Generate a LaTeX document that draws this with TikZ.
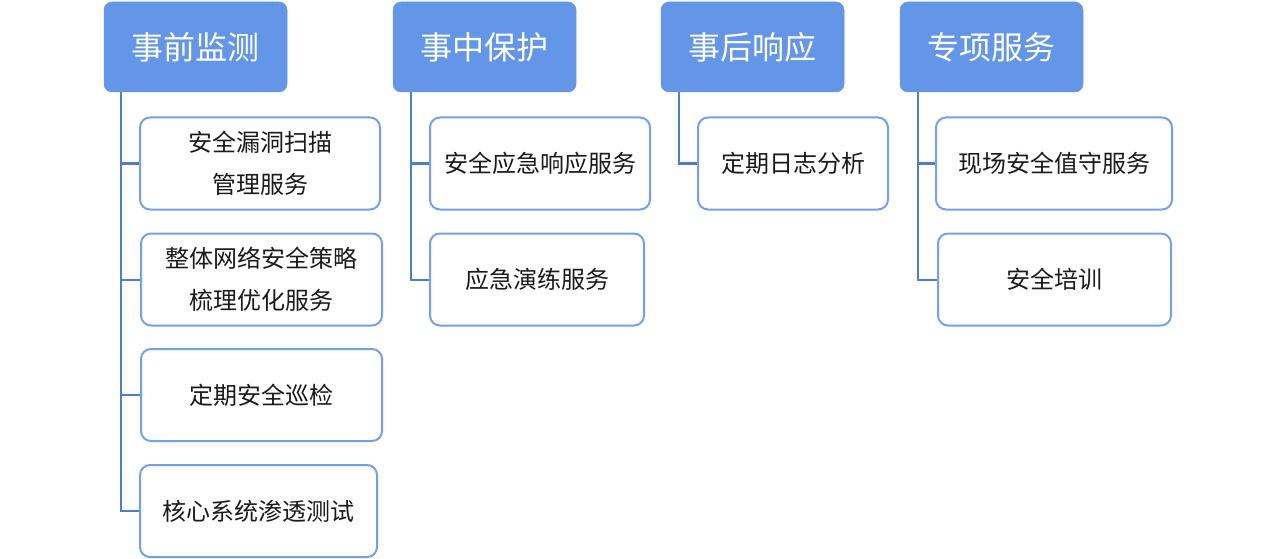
\documentclass[tikz,border=0pt]{standalone}
\usepackage{fontspec}
\setmainfont{Noto Sans CJK SC}
\newfontfamily\cjk{Noto Sans CJK SC}
\definecolor{hdrfill}{HTML}{6396E6}
\definecolor{boxline}{HTML}{73A0EA}
\definecolor{connline}{HTML}{4D7DCB}
\definecolor{txt}{HTML}{1A1A1A}
\tikzset{
  hdr/.style={fill=hdrfill, draw=hdrfill, line width=0.5pt, rounded corners=8pt, inner sep=0pt,
    minimum width=183pt, minimum height=90pt, text=white, font=\cjk\fontsize{32}{36}\selectfont},
  child/.style={draw=boxline, fill=white, line width=2pt, rounded corners=10pt, inner sep=0pt,
    minimum height=92pt, text=txt, align=center, font=\cjk\fontsize{24}{42}\selectfont},
  conn/.style={draw=connline, line width=2pt}
}
\begin{document}
\begin{tikzpicture}[x=1pt,y=-1pt]
\useasboundingbox (0,0) rectangle (1277,559);
% headers
\node[hdr] (h1) at (195.5,47) {事前监测};
\node[hdr] (h2) at (484.5,47) {事中保护};
\node[hdr] (h3) at (752.5,47) {事后响应};
\node[hdr] (h4) at (991.5,47) {专项服务};
% children
\node[child, minimum width=240pt] (c11) at (260,163.5) {安全漏洞扫描\\管理服务};
\node[child, minimum width=241pt] (c12) at (261.5,279.5) {整体网络安全策略\\梳理优化服务};
\node[child, minimum width=241pt] (c13) at (261.5,395) {定期安全巡检};
\node[child, minimum width=237pt] (c14) at (258.5,511) {核心系统渗透测试};
\node[child, minimum width=220pt] (c21) at (540,163.5) {安全应急响应服务};
\node[child, minimum width=214pt] (c22) at (537,279.5) {应急演练服务};
\node[child, minimum width=190pt] (c31) at (793,163.5) {定期日志分析};
\node[child, minimum width=236pt] (c41) at (1054,163.5) {现场安全值守服务};
\node[child, minimum width=233pt] (c42) at (1054.5,279.5) {安全培训};
% trunk tops
\coordinate (t1) at (121,92);
\coordinate (t2) at (411,92);
\coordinate (t3) at (679,92);
\coordinate (t4) at (918,92);
% connectors
\draw[conn] (t1) |- (c14.west);
\draw[conn] (t1 |- c11.west) -- (c11.west);
\draw[conn] (t1 |- c12.west) -- (c12.west);
\draw[conn] (t1 |- c13.west) -- (c13.west);
\draw[conn] (t2) |- (c22.west);
\draw[conn] (t2 |- c21.west) -- (c21.west);
\draw[conn] (t3) |- (c31.west);
\draw[conn] (t4) |- (c42.west);
\draw[conn] (t4 |- c41.west) -- (c41.west);
\end{tikzpicture}
\end{document}
